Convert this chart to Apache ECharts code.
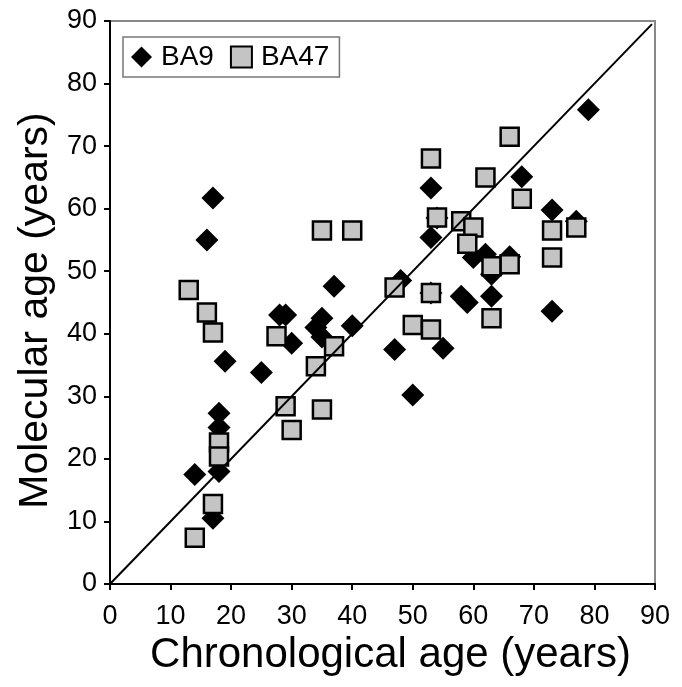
<!DOCTYPE html>
<html>
<head>
<meta charset="utf-8">
<script src="https://cdn.jsdelivr.net/npm/echarts@6/dist/echarts.min.js"></script>
<style>html,body{margin:0;padding:0;background:#fff}#c{width:682px;height:687px}</style>
</head>
<body>
<div id="c"></div>
<script>
var ba9 = [
  [14, 17.5], [17, 10.5], [18, 18], [18, 25], [18, 27.3], [19, 35.6], [16, 55], [17, 61.7],
  [25, 33.8], [28, 43], [29, 43], [30, 38.5], [34, 41], [35, 42.5], [35, 39.5], [37, 47.6],
  [40, 41.3], [47, 37.5], [48, 48.5], [50, 30.2], [53, 46.5], [53, 55.4], [53, 63.3], [54, 58.5],
  [55, 37.7], [58, 46], [59, 45], [60, 52.2], [62, 52.7], [63, 49.5], [63, 46], [66, 52.3],
  [68, 65.1], [73, 59.8], [73, 43.6], [77, 58], [79, 75.8]
];
var ba47 = [
  [13, 47], [16, 43.4], [17, 40.2], [17, 12.8], [14, 7.4], [18, 22.6], [18, 20.4], [27.5, 39.6],
  [29, 28.4], [30, 24.6], [34, 34.8], [35, 27.9], [35, 56.5], [40, 56.5], [37, 38], [47, 47.4],
  [50, 41.4], [53, 46.5], [53, 40.7], [53, 68], [54, 58.6], [58, 58], [60, 57], [59, 54.4],
  [62, 65], [63, 50.8], [63, 42.5], [66, 71.5], [66, 51.1], [68, 61.6], [73, 56.5], [73, 52.2],
  [77, 57]
];
var identityLine = [[0, 0], [89.5, 89.5]];
var axisMin = 0, axisMax = 90, axisStep = 10;

var chart = echarts.init(document.getElementById('c'));
var font = 'Liberation Sans, Arial, sans-serif';
chart.setOption({
  animation: false,
  backgroundColor: '#fff',
  grid: { left: 110, right: 27, top: 21, bottom: 103, show: true, borderColor: '#888', borderWidth: 2 },
  legend: {
    left: 123, top: 37,
    orient: 'horizontal',
    data: [
      { name: 'BA9', icon: 'diamond', itemStyle: { color: '#000' } },
      { name: 'BA47', icon: 'rect', itemStyle: { color: '#c4c4c4', borderColor: '#000', borderWidth: 2 } }
    ],
    itemWidth: 21, itemHeight: 21, itemGap: 16,
    borderColor: '#777', borderWidth: 1.5, borderRadius: 0,
    padding: [6, 10, 6, 8],
    textStyle: { fontFamily: font, fontSize: 28, color: '#000', padding: [0, 0, 0, 4] }
  },
  xAxis: {
    type: 'value', min: axisMin, max: axisMax, interval: axisStep,
    name: 'Chronological age (years)', nameLocation: 'middle', nameGap: 49,
    nameTextStyle: { fontFamily: font, fontSize: 42, color: '#000', padding: [0, 0, 0, 16] },
    axisLine: { onZero: false, lineStyle: { color: '#000', width: 2 } },
    axisTick: { show: true, length: 6, lineStyle: { color: '#000', width: 2 } },
    axisLabel: { fontFamily: font, fontSize: 27, color: '#000', margin: 19 },
    splitLine: { show: false }
  },
  yAxis: {
    type: 'value', min: axisMin, max: axisMax, interval: axisStep,
    name: 'Molecular age (years)', nameLocation: 'middle', nameGap: 54,
    nameTextStyle: { fontFamily: font, fontSize: 41, color: '#000', padding: [0, 16, 0, 0] },
    axisLine: { show: true, onZero: false, lineStyle: { color: '#000', width: 2 } },
    axisTick: { show: true, length: 6, lineStyle: { color: '#000', width: 2 } },
    axisLabel: { fontFamily: font, fontSize: 27, color: '#000', margin: 13 },
    splitLine: { show: false }
  },
  series: [
    {
      name: 'BA9', type: 'scatter', data: ba9, symbol: 'diamond', symbolSize: 23,
      itemStyle: { color: '#000', opacity: 1 }, z: 2
    },
    {
      name: 'BA47', type: 'scatter', data: ba47, symbol: 'rect', symbolSize: 18,
      itemStyle: { color: '#c4c4c4', borderColor: '#000', borderWidth: 2.5, opacity: 1 }, z: 3
    },
    {
      name: 'line', type: 'line', data: identityLine, symbol: 'none',
      lineStyle: { color: '#000', width: 2 }, z: 4, silent: true
    }
  ]
});
</script>
</body>
</html>
